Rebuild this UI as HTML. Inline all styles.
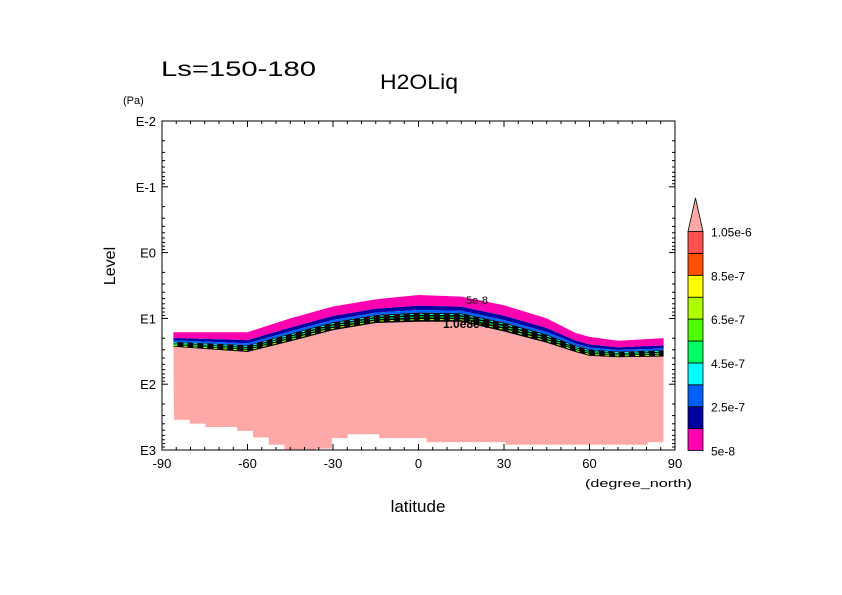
<!DOCTYPE html>
<html><head><meta charset="utf-8"><style>
body{margin:0;background:#fff}
svg{display:block;font-family:"Liberation Sans",sans-serif}
</style></head><body>
<svg id="chart" width="842" height="595" viewBox="0 0 842 595">
<rect width="842" height="595" fill="#fff"/>
<g id="plot"></g>
<g id="axes"></g>
<g id="cbar"></g>
<text x="161" y="76" font-size="21" textLength="155" lengthAdjust="spacingAndGlyphs">Ls=150-180</text>
<text x="380" y="89" font-size="21" textLength="78" lengthAdjust="spacingAndGlyphs">H2OLiq</text>
<text x="123" y="104" font-size="11">(Pa)</text>
<text x="115" y="266" font-size="16" transform="rotate(-90 115 266)" text-anchor="middle">Level</text>
<text x="418" y="512" font-size="17" text-anchor="middle">latitude</text>
<text x="585" y="487" font-size="11" textLength="107" lengthAdjust="spacingAndGlyphs">(degree_north)</text>
</svg>
<script>
// ---- data ----
const profLat = [-86,-60,-45,-30,-15,0,15,30,45,55,60,70,86];
const cloudTop = [1.21,1.21,1.00,0.82,0.71,0.645,0.67,0.80,1.00,1.22,1.28,1.34,1.30];
const pinkTop  = [1.43,1.51,1.35,1.18,1.07,1.05,1.05,1.20,1.37,1.51,1.57,1.59,1.58];
const groundCols = [2.54,2.60,2.65,2.65,2.71,2.81,2.92,3.0,3.0,2.98,2.82,2.76,2.76,2.82,2.82,2.82,2.88,2.88,2.88,2.88,2.88,2.92,2.92,2.92,2.92,2.92,2.92,2.92,2.92,2.92,2.88];
const colStart = -85.8, colWidth = 5.54;
const levelLabels = ["5e-8","2.5e-7","4.5e-7","6.5e-7","8.5e-7","1.05e-6"];
const levelColors = ["#ff00b0","#0000a0","#0060ff","#00ffff","#00ff60","#50ff00","#b0ff00","#ffff00","#ff5000","#ff5050"];
const xTicks = [-90,-60,-30,0,30,60,90];
const yTicks = [-2,-1,0,1,2,3];

// ---- scales ----
const X0=162,X1=675,Y0=121,Y1=450;
const xs = l => X0 + (l+90)/180*(X1-X0);
const ys = p => Y0 + (p+2)/5*(Y1-Y0);
const NS="http://www.w3.org/2000/svg";
function mk(tag,attrs,parent){const e=document.createElementNS(NS,tag);for(const k in attrs)e.setAttribute(k,attrs[k]);parent.appendChild(e);return e;}
const plot=document.getElementById('plot'), axes=document.getElementById('axes'), cbar=document.getElementById('cbar');

let d="M"+xs(profLat[0])+","+ys(pinkTop[0]);
for(let i=1;i<profLat.length;i++) d+=" L"+xs(profLat[i])+","+ys(pinkTop[i]);
for(let i=groundCols.length-1;i>=0;i--){const a=colStart+i*colWidth,b=a+colWidth;d+=" L"+xs(b)+","+ys(groundCols[i])+" L"+xs(a)+","+ys(groundCols[i]);}
d+=" Z";
const pink=mk('path',{d:d,fill:'#ffa8a8'},plot);



function band(f0,f1,color,name){
  let p="M";
  for(let i=0;i<profLat.length;i++){const v=cloudTop[i]+(pinkTop[i]-cloudTop[i])*f0;p+=(i?" L":"")+xs(profLat[i])+","+ys(v);}
  for(let i=profLat.length-1;i>=0;i--){const v=cloudTop[i]+(pinkTop[i]-cloudTop[i])*f1;p+=" L"+xs(profLat[i])+","+ys(v);}
  const e=mk('path',{d:p+" Z",fill:color},plot);
  
  
}
band(0,0.4,levelColors[0],'band-5e-8');
band(0.4,0.56,levelColors[1],'band-1.5e-7');
band(0.56,0.66,levelColors[2],'band-2.5e-7');
band(0.66,1.0,'#000','contour-dense-band');
const stripes=[[0.72,levelColors[3]],[0.82,levelColors[4]],[0.92,levelColors[6]]];
stripes.forEach((s,k)=>{
  let p="";
  for(let i=0;i<profLat.length;i++){const v=cloudTop[i]+(pinkTop[i]-cloudTop[i])*s[0];p+=(i?" L":"M")+xs(profLat[i])+","+ys(v);}
  const e=mk('path',{d:p,fill:'none',stroke:s[1],'stroke-width':1,'stroke-dasharray':'4 6'},plot);
  
  
});
const cl=mk('text',{x:466,y:304,'font-size':11},plot);cl.textContent="5e-8";


const cl2=mk('text',{x:443,y:328,'font-size':12,'font-weight':'bold',fill:'#000'},plot);cl2.textContent="1.0e8e-7";



const fr=mk('rect',{x:X0,y:Y0,width:X1-X0,height:Y1-Y0,fill:'none',stroke:'#000','stroke-width':1},axes);


for(let l=-90;l<=90;l+=5){
  const major=l%30===0, len=major?6:3, x=xs(l);
  mk('line',{x1:x,y1:Y1,x2:x,y2:Y1-len,stroke:'#000'},axes);
  mk('line',{x1:x,y1:Y0,x2:x,y2:Y0+len,stroke:'#000'},axes);
}
xTicks.forEach(t=>{
  const e=mk('text',{x:xs(t),y:Y1+18,'font-size':13,'text-anchor':'middle'},axes);e.textContent=String(t);
  
  
});
for(let dcd=-2;dcd<3;dcd++){
  for(let m=1;m<10;m++){
    const p=dcd+Math.log10(m), y=ys(p), len=m===1?6:3;
    mk('line',{x1:X0,y1:y,x2:X0+len,y2:y,stroke:'#000'},axes);
    mk('line',{x1:X1,y1:y,x2:X1-len,y2:y,stroke:'#000'},axes);
  }
}
yTicks.forEach(t=>{
  const e=mk('text',{x:X0-6,y:ys(t)+5,'font-size':13,'text-anchor':'end'},axes);e.textContent="E"+(t<0?"-"+(-t):t);
  
  
});

const CX=688,CW=15,CT=231.5,CB=450.5,bh=(CB-CT)/levelColors.length;
levelColors.forEach((c,i)=>{
  const r=mk('rect',{x:CX,y:CB-(i+1)*bh,width:CW,height:bh,fill:c,stroke:'#000','stroke-width':0.8},cbar);
  
  
});
const tri=mk('path',{d:`M${CX},${CT} L${CX+CW/2},198 L${CX+CW},${CT} Z`,fill:'#ffa8a8',stroke:'#000','stroke-width':0.8},cbar);


levelLabels.forEach((t,i)=>{
  const e=mk('text',{x:711,y:CB-i*2*bh+5,'font-size':12},cbar);e.textContent=t;
  
  
});
</script>
</body></html>
